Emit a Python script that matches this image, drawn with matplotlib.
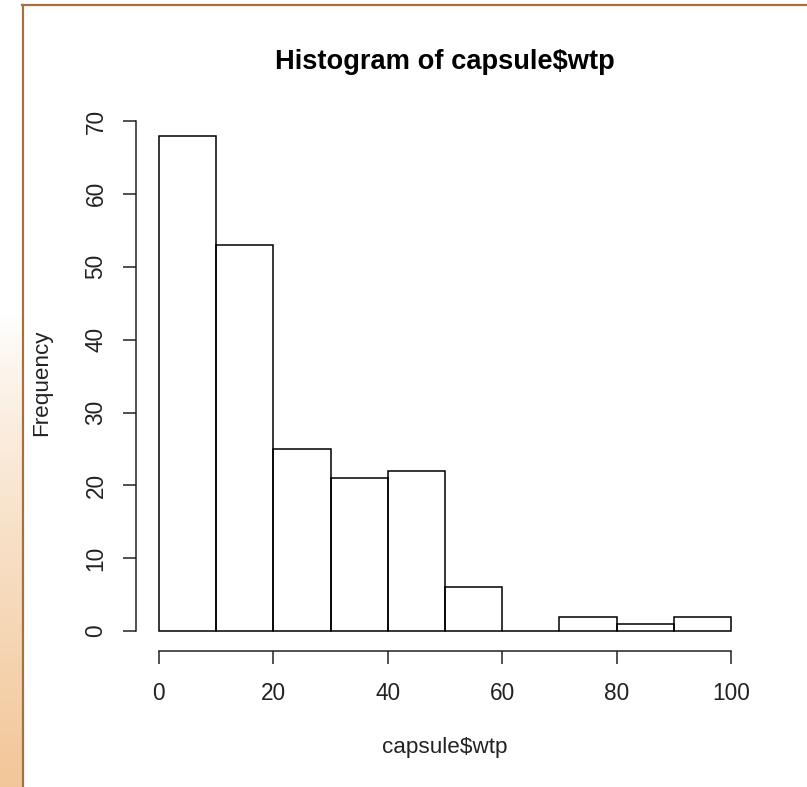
import numpy as np
import matplotlib
matplotlib.use('Agg')
import matplotlib.pyplot as plt
from matplotlib.lines import Line2D

plt.rcParams['font.family'] = ['Liberation Sans', 'DejaVu Sans']

# Histogram of willingness-to-pay
bin_edges = [0, 10, 20, 30, 40, 50, 60, 70, 80, 90, 100]
counts = [68, 53, 25, 21, 22, 6, 0, 2, 1, 2]
x_ticks = [0, 20, 40, 60, 80, 100]
y_ticks = [0, 10, 20, 30, 40, 50, 60, 70]

W, H = 807, 787
fig = plt.figure(figsize=(W / 100, H / 100), dpi=100)
fig.patch.set_facecolor('white')

# peach gradient strip on the left, with a brown frame
strip = fig.add_axes([0, 0, 22 / W, 1])
grad = np.linspace(0, 1, 256)
grad = np.clip((grad - 0.4) / 0.6, 0, 1) ** 0.8
top = np.array([1.0, 1.0, 1.0])
bottom = np.array([0.95, 0.78, 0.60])
img = top[None, None, :] * (1 - grad[:, None, None]) + bottom[None, None, :] * grad[:, None, None]
strip.imshow(img, aspect='auto', extent=[0, 1, 0, 1], origin='upper')
strip.axis('off')
frame_col = '#a5713f'
fig.add_artist(Line2D([22.5 / W, 22.5 / W], [0, 1 - 5 / H], color=frame_col, lw=1.6,
                      transform=fig.transFigure))
fig.add_artist(Line2D([22 / W, 1], [1 - 5 / H, 1 - 5 / H], color=frame_col, lw=1.6,
                      transform=fig.transFigure))

ax = fig.add_axes([136 / W, 1 - 651 / H, (754 - 136) / W, (651 - 115.7) / H])
ax.bar(bin_edges[:-1], counts, width=np.diff(bin_edges), align='edge',
       fill=False, edgecolor='black', linewidth=1.1)

ax.set_xlim(-4, 104)
ax.set_ylim(-2.72, 70.72)
ax.set_xticks(x_ticks)
ax.set_yticks(y_ticks)
ax.spines['top'].set_visible(False)
ax.spines['right'].set_visible(False)
ax.spines['left'].set_bounds(0, 70)
ax.spines['bottom'].set_bounds(0, 100)
for s in ('left', 'bottom'):
    ax.spines[s].set_linewidth(1.1)
    ax.spines[s].set_color('#222222')
ax.tick_params(axis='both', length=9.5, width=1.1, color='#222222', labelsize=16.3,
               labelcolor='#222222')
ax.tick_params(axis='x', pad=12.5)
ax.tick_params(axis='y', pad=11)
for lab in ax.get_yticklabels():
    lab.set_rotation(90)
    lab.set_va('center')

fig.text(445 / W, 1 - 62 / H, 'Histogram of capsule$wtp', ha='center', va='center',
         fontsize=19.6, fontweight='bold')
fig.text(445 / W, 1 - 748 / H, 'capsule$wtp', ha='center', va='center', fontsize=16.2,
         color='#222222')
fig.text(42 / W, 1 - 383 / H, 'Frequency', ha='center', va='center', rotation=90,
         fontsize=16.2, color='#222222')

fig.savefig('out.png', dpi=100)
